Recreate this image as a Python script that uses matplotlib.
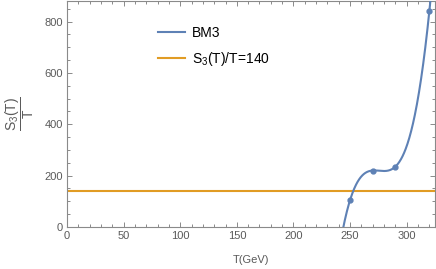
import numpy as np
import matplotlib
matplotlib.use("Agg")
import matplotlib.pyplot as plt
from matplotlib.ticker import MultipleLocator

# Data
T_points = [250, 270, 290, 320]
S3_over_T = [105, 220, 235, 840]
threshold = 140
series_label = "BM3"
threshold_label = r"S$_3$(T)/T=140"

plt.rcParams['font.family'] = ['Liberation Sans', 'DejaVu Sans']
plt.rcParams['mathtext.fontset'] = 'custom'
plt.rcParams['mathtext.rm'] = 'Liberation Sans'
plt.rcParams['mathtext.sf'] = 'Liberation Sans'
plt.rcParams['mathtext.it'] = 'Liberation Sans'

blue = "#5E81B5"
orange = "#E19C24"
frame = "#8a8a8a"
txt = "#5a5a5a"

fig = plt.figure(figsize=(4.36, 2.69), dpi=100)
ax = fig.add_axes([67/436, 42/269, (435-67)/436, (269-42-1)/269])

# cubic interpolation through the 4 points (as Mathematica Interpolation)
coef = np.polyfit(T_points, S3_over_T, 3)
Tc = np.linspace(238, 330, 400)
ax.plot(Tc, np.polyval(coef, Tc), color=blue, lw=1.5, label=series_label, zorder=3)
ax.plot(T_points, S3_over_T, 'o', color=blue, ms=3.5, zorder=4)
ax.axhline(threshold, color=orange, lw=1.5, label=threshold_label, zorder=2)

ax.set_xlim(0, 325)
ax.set_ylim(0, 880)
ax.xaxis.set_major_locator(MultipleLocator(50))
ax.xaxis.set_minor_locator(MultipleLocator(10))
ax.yaxis.set_major_locator(MultipleLocator(200))
ax.yaxis.set_minor_locator(MultipleLocator(50))
ax.tick_params(which='both', direction='in', top=True, right=True,
               color=frame, labelcolor=txt, labelsize=8, width=0.7)
ax.tick_params(which='major', length=3.5, pad=3)
ax.tick_params(which='minor', length=2)
ax.tick_params(labeltop=False, labelright=False)
for s in ax.spines.values():
    s.set_color(frame)
    s.set_linewidth(0.8)

ax.set_xlabel("T(GeV)", color=txt, fontsize=8, labelpad=10)
ax.set_ylabel(r"$\dfrac{\mathrm{S_3(T)}}{\mathrm{T}}$", color=txt, fontsize=10, labelpad=6)

leg = ax.legend(loc='upper left', bbox_to_anchor=(0.214, 0.945), frameon=False,
                fontsize=10, handlelength=1.9, handletextpad=0.55, labelspacing=0.7)

fig.savefig("out.png", dpi=100)
